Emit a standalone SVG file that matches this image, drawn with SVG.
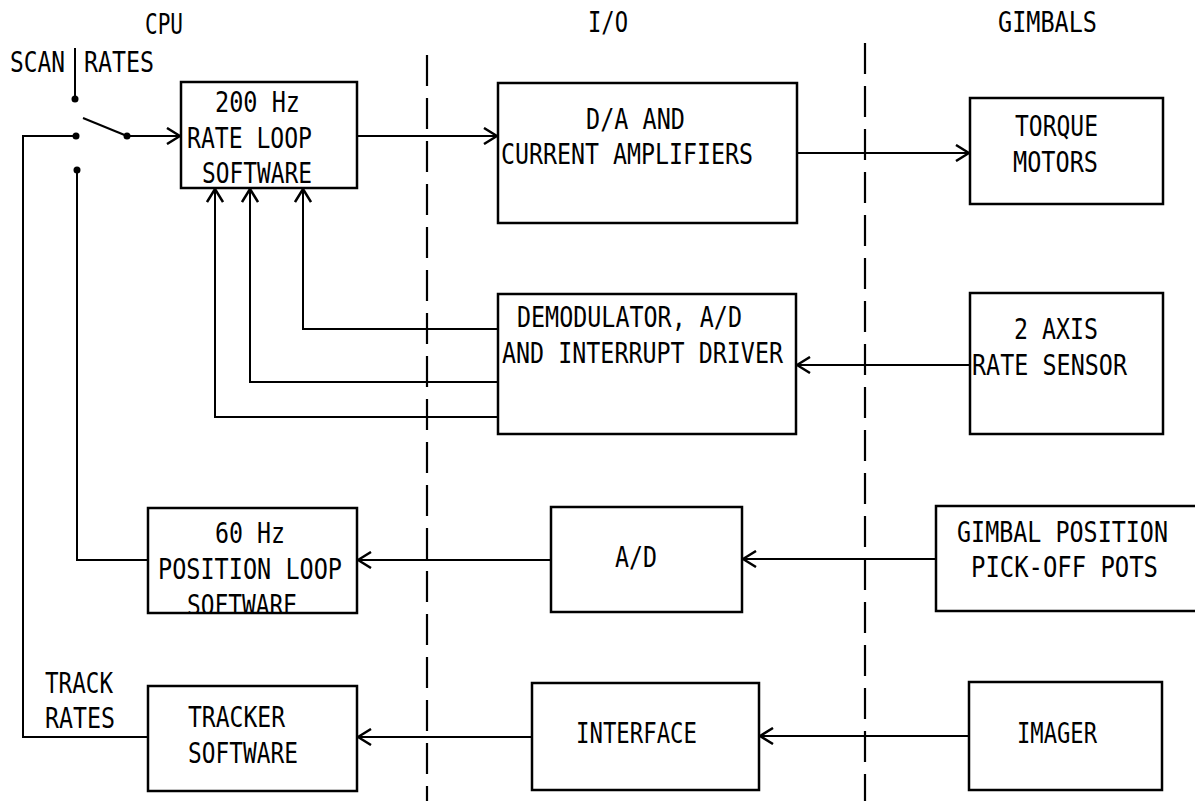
<svg xmlns="http://www.w3.org/2000/svg" width="1195" height="801" viewBox="0 0 1195 801">
<style>
  .box{fill:none;stroke:#000;stroke-width:2.5}
  .ln{fill:none;stroke:#000;stroke-width:2}
  .dash{fill:none;stroke:#000;stroke-width:2.2;stroke-dasharray:31 12}
  text{font-family:"DejaVu Sans Mono","Liberation Mono",monospace;font-size:29px;fill:#000}
</style>
<defs>
  <marker id="arr" viewBox="0 0 15 18" refX="14" refY="9" markerWidth="15" markerHeight="18" markerUnits="userSpaceOnUse" orient="auto">
    <polyline points="1,1 14,9 1,17" fill="none" stroke="#000" stroke-width="2.5"/>
  </marker>
</defs>
<rect width="1195" height="801" fill="#fff"/>

<g id="headers">
  <text x="145" y="34" textLength="38" lengthAdjust="spacingAndGlyphs">CPU</text>
  <text x="588" y="32" textLength="40" lengthAdjust="spacingAndGlyphs">I/O</text>
  <text x="998" y="32" textLength="99" lengthAdjust="spacingAndGlyphs">GIMBALS</text>
</g>

<g id="dividers">
  <line class="dash" x1="427" y1="55" x2="427" y2="801"/>
  <line class="dash" x1="865" y1="43" x2="865" y2="801"/>
</g>

<g id="switch">
  <text x="10" y="72" textLength="55" lengthAdjust="spacingAndGlyphs">SCAN</text>
  <text x="84" y="72" textLength="70" lengthAdjust="spacingAndGlyphs">RATES</text>
  <line class="ln" x1="75" y1="48" x2="75" y2="99" stroke-width="3"/>
  <circle cx="75" cy="99" r="3.5"/>
  <circle cx="76" cy="136" r="3.5"/>
  <circle cx="77" cy="170" r="3.5"/>
  <line class="ln" x1="83" y1="118" x2="127" y2="136"/>
  <circle cx="127" cy="136" r="3.5"/>
</g>

<g id="rate-loop">
  <rect class="box" x="181" y="82" width="176" height="106"/>
  <text x="215" y="112" textLength="85" lengthAdjust="spacingAndGlyphs">200 Hz</text>
  <text x="187" y="148" textLength="125" lengthAdjust="spacingAndGlyphs">RATE LOOP</text>
  <text x="202" y="183" textLength="110" lengthAdjust="spacingAndGlyphs">SOFTWARE</text>
</g>

<g id="da-amps">
  <rect class="box" x="498" y="83" width="299" height="140"/>
  <text x="586" y="129" textLength="99" lengthAdjust="spacingAndGlyphs">D/A AND</text>
  <text x="501" y="164" textLength="252" lengthAdjust="spacingAndGlyphs">CURRENT AMPLIFIERS</text>
</g>

<g id="torque-motors">
  <rect class="box" x="970" y="98" width="193" height="106"/>
  <text x="1015" y="136" textLength="83" lengthAdjust="spacingAndGlyphs">TORQUE</text>
  <text x="1013" y="172" textLength="85" lengthAdjust="spacingAndGlyphs">MOTORS</text>
</g>

<g id="demodulator">
  <rect class="box" x="498" y="294" width="298" height="140"/>
  <text x="517" y="327" textLength="225" lengthAdjust="spacingAndGlyphs">DEMODULATOR, A/D</text>
  <text x="502" y="363" textLength="281" lengthAdjust="spacingAndGlyphs">AND INTERRUPT DRIVER</text>
</g>

<g id="rate-sensor">
  <rect class="box" x="970" y="293" width="193" height="141"/>
  <text x="1014" y="339" textLength="84" lengthAdjust="spacingAndGlyphs">2 AXIS</text>
  <text x="972" y="375" textLength="155" lengthAdjust="spacingAndGlyphs">RATE SENSOR</text>
</g>

<g id="position-loop">
  <text x="215" y="543" textLength="70" lengthAdjust="spacingAndGlyphs">60 Hz</text>
  <text x="158" y="579" textLength="184" lengthAdjust="spacingAndGlyphs">POSITION LOOP</text>
  <text x="187" y="615" textLength="110" lengthAdjust="spacingAndGlyphs">SOFTWARE</text>
  <rect x="170" y="613" width="150" height="10" fill="#fff"/>
  <rect class="box" x="148" y="508" width="209" height="105"/>
</g>

<g id="ad">
  <rect class="box" x="551" y="507" width="191" height="105"/>
  <text x="615" y="567" textLength="42" lengthAdjust="spacingAndGlyphs">A/D</text>
</g>

<g id="pickoff-pots">
  <polyline class="box" points="1195,506 936,506 936,611 1195,611"/>
  <text x="957" y="542" textLength="211" lengthAdjust="spacingAndGlyphs">GIMBAL POSITION</text>
  <text x="971" y="577" textLength="187" lengthAdjust="spacingAndGlyphs">PICK-OFF POTS</text>
</g>

<g id="tracker">
  <text x="45" y="693" textLength="68" lengthAdjust="spacingAndGlyphs">TRACK</text>
  <text x="45" y="728" textLength="70" lengthAdjust="spacingAndGlyphs">RATES</text>
  <rect class="box" x="148" y="686" width="209" height="105"/>
  <text x="188" y="727" textLength="97" lengthAdjust="spacingAndGlyphs">TRACKER</text>
  <text x="188" y="763" textLength="110" lengthAdjust="spacingAndGlyphs">SOFTWARE</text>
</g>

<g id="interface">
  <rect class="box" x="532" y="683" width="227" height="107"/>
  <text x="576" y="743" textLength="121" lengthAdjust="spacingAndGlyphs">INTERFACE</text>
</g>

<g id="imager">
  <rect class="box" x="969" y="682" width="193" height="108"/>
  <text x="1017" y="743" textLength="80" lengthAdjust="spacingAndGlyphs">IMAGER</text>
</g>

<g id="connectors">
  <line class="ln" x1="127" y1="136" x2="180" y2="136" marker-end="url(#arr)"/>
  <polyline class="ln" points="76,136 23,136 23,737 148,737"/>
  <polyline class="ln" points="77,170 77,560 148,560"/>
  <line class="ln" x1="357" y1="136" x2="497" y2="136" marker-end="url(#arr)"/>
  <line class="ln" x1="797" y1="153" x2="969" y2="153" marker-end="url(#arr)"/>
  <polyline class="ln" points="498,329 303,329 303,189" marker-end="url(#arr)"/>
  <polyline class="ln" points="498,382 250,382 250,189" marker-end="url(#arr)"/>
  <polyline class="ln" points="498,417 215,417 215,189" marker-end="url(#arr)"/>
  <line class="ln" x1="970" y1="365" x2="797" y2="365" marker-end="url(#arr)"/>
  <line class="ln" x1="551" y1="560" x2="358" y2="560" marker-end="url(#arr)"/>
  <line class="ln" x1="936" y1="559" x2="743" y2="559" marker-end="url(#arr)"/>
  <line class="ln" x1="532" y1="737" x2="358" y2="737" marker-end="url(#arr)"/>
  <line class="ln" x1="969" y1="736" x2="760" y2="736" marker-end="url(#arr)"/>
</g>
</svg>
